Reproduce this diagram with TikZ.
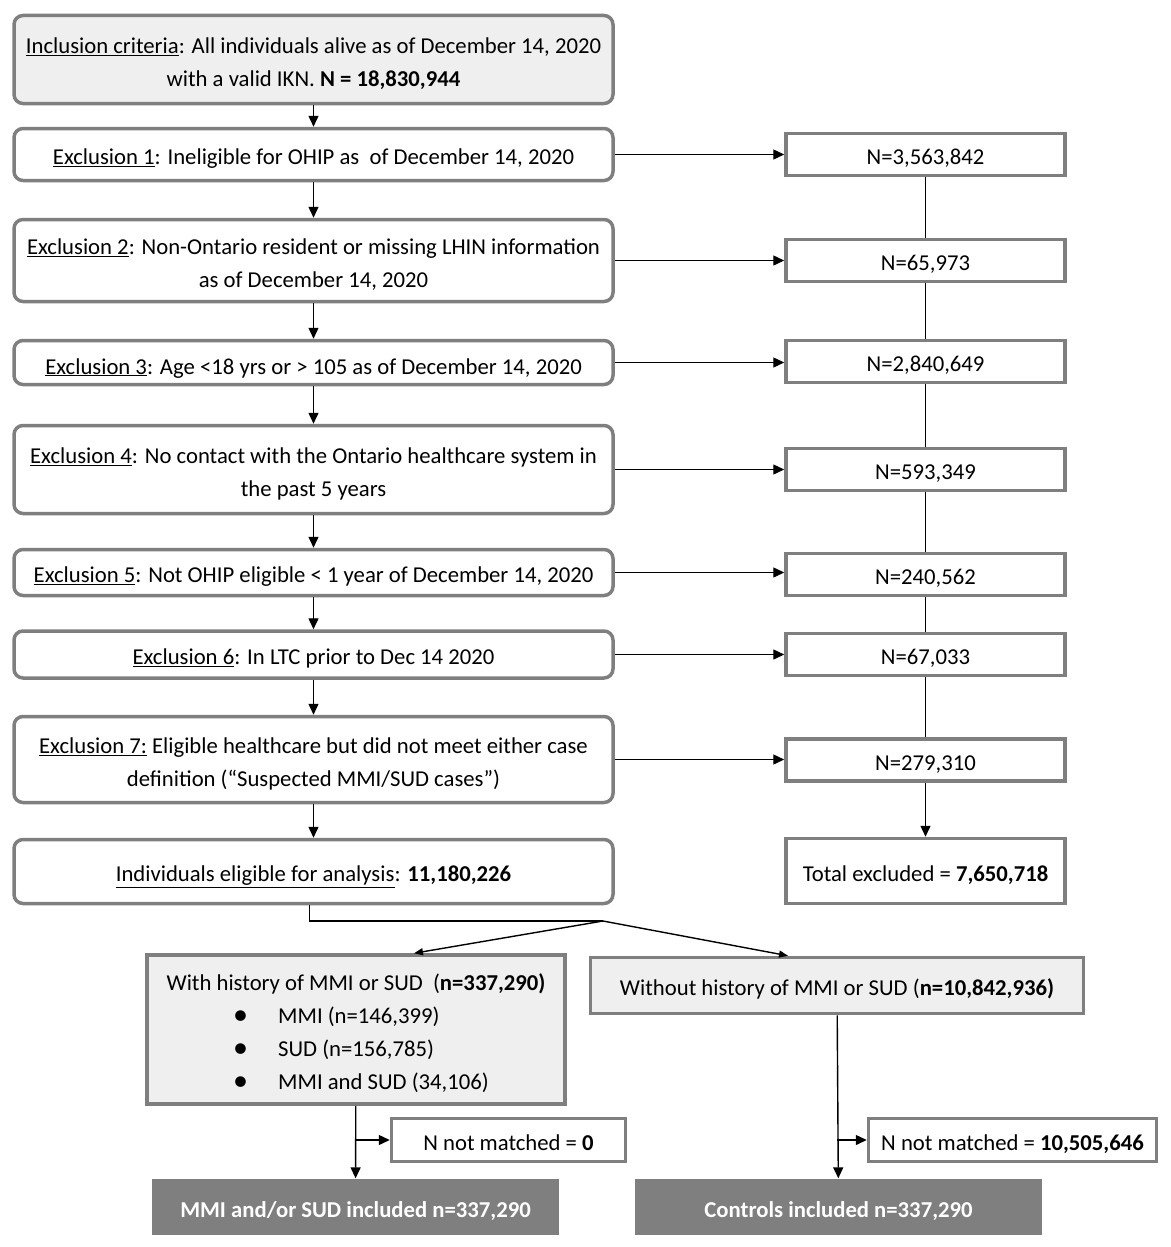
\documentclass[tikz,border=0pt]{standalone}
\usepackage{fontspec}
\setmainfont{Carlito}
\usetikzlibrary{arrows.meta}
\definecolor{boxgray}{HTML}{7F7F7F}
\definecolor{lightfill}{HTML}{EFEFEF}
\newcommand{\bigbullet}{\raisebox{-1pt}{\fontsize{30}{30}\selectfont\textbullet}}
\begin{document}
\begin{tikzpicture}[x=1pt, y=-1pt, line width=1.4pt,
  every node/.style={font=\fontsize{22.7}{33}\selectfont, align=center, inner sep=0pt,
    text height=20pt, text depth=0pt},
  twolines/.style={text height=54pt},
  roundbox/.style={draw=boxgray, line width=3.5pt, rounded corners=9pt, minimum width=599pt},
  countbox/.style={draw=boxgray, line width=3.5pt, minimum width=279pt, minimum height=42pt},
  greybox/.style={draw=boxgray, fill=lightfill, line width=3.5pt},
  darkbox/.style={fill=boxgray, text=white, font=\fontsize{22.7}{33}\selectfont\bfseries, minimum height=56pt},
  arr/.style={-{Triangle[length=11pt,width=10pt]}},
  thinarr/.style={-{Triangle[length=9pt,width=7pt]}}]
\useasboundingbox (0,0) rectangle (1170,1247);
\node[roundbox, twolines, fill=lightfill, minimum height=88pt] (incl) at (313.5,59.5)
  {\underline{Inclusion criteria}: All individuals alive as of December 14, 2020\\
   with a valid IKN. \textbf{N = 18,830,944}};
\node[roundbox, minimum height=52pt] (ex1) at (313.5,154.5)
  {\underline{Exclusion 1}: Ineligible for OHIP as \ of December 14, 2020};
\node[roundbox, twolines, minimum height=82pt] (ex2) at (313.5,260.5)
  {\underline{Exclusion 2}: Non-Ontario resident or missing LHIN information\\
   as of December 14, 2020};
\node[roundbox, minimum height=44pt, text height=23pt] (ex3) at (313.5,362.5)
  {\underline{Exclusion 3}: Age <18 yrs or > 105 as of December 14, 2020};
\node[roundbox, twolines, minimum height=88pt] (ex4) at (313.5,469.5)
  {\underline{Exclusion 4}: No contact with the Ontario healthcare system in\\
   the past 5 years};
\node[roundbox, minimum height=46pt] (ex5) at (313.5,572.5)
  {\underline{Exclusion 5}: Not OHIP eligible < 1 year of December 14, 2020};
\node[roundbox, minimum height=47pt] (ex6) at (313.5,654.5)
  {\underline{Exclusion 6}: In LTC prior to Dec 14 2020};
\node[roundbox, twolines, minimum height=86pt] (ex7) at (313.5,759.5)
  {\underline{Exclusion 7:} Eligible healthcare but did not meet either case\\
   definition (“Suspected MMI/SUD cases”)};
\node[roundbox, minimum height=64pt] (elig) at (313.5,871.5)
  {\underline{Individuals eligible for analysis}: \textbf{11,180,226}};

\node[countbox] (r1) at (925.5,154.5) {N=3,563,842};
\node[countbox] (r2) at (925.5,260.5) {N=65,973};
\node[countbox] (r3) at (925.5,361.5) {N=2,840,649};
\node[countbox] (r4) at (925.5,469.5) {N=593,349};
\node[countbox] (r5) at (925.5,574.5) {N=240,562};
\node[countbox] (r6) at (925.5,654.5) {N=67,033};
\node[countbox] (r7) at (925.5,760) {N=279,310};
\node[countbox, minimum height=65pt] (tot) at (925.5,871) {Total excluded = \textbf{7,650,718}};

\node[greybox, text height={}, text depth={}, minimum width=418pt, minimum height=149pt] (hist) at (356,1029.5)
  {\begin{tabular}{@{}c@{}}
   \rule{0pt}{31pt}With history of MMI or SUD \ (\textbf{n=337,290)}\\
   \hspace*{10pt}\begin{tabular}{@{}l@{\hspace{30pt}}l@{}}
   \bigbullet & MMI (n=146,399)\\
   \bigbullet & SUD (n=156,785)\\
   \bigbullet & MMI and SUD (34,106)
   \end{tabular}
   \end{tabular}};
\node[greybox, minimum width=493pt, minimum height=56pt] (nohist) at (837,985.5)
  {Without history of MMI or SUD (\textbf{n=10,842,936)}};
\node[countbox, minimum width=234pt, minimum height=43pt] (nm1) at (508.5,1140) {N not matched = \textbf{0}};
\node[countbox, minimum width=288pt, minimum height=43pt] (nm2) at (1012.5,1140) {N not matched = \textbf{10,505,646}};
\node[darkbox, minimum width=407pt] (case) at (355.5,1207) {MMI and/or SUD included n=337,290};
\node[darkbox, minimum width=407pt] (ctrl) at (838.5,1207) {Controls included n=337,290};

\draw[arr] (incl) -- (ex1);
\draw[arr] (ex1) -- (ex2);
\draw[arr] (ex2) -- (ex3);
\draw[arr] (ex3) -- (ex4);
\draw[arr] (ex4) -- (ex5);
\draw[arr] (ex5) -- (ex6);
\draw[arr] (ex6) -- (ex7);
\draw[arr] (ex7) -- (elig);
\foreach \i in {1,...,7}
  \draw[arr] (ex\i.east) -- (r\i.west |- ex\i.east);
\draw (r1) -- (r2) -- (r3) -- (r4) -- (r5) -- (r6) -- (r7);
\draw[arr] (r7) -- (tot);

\coordinate (split) at (603,921);
\draw ([xshift=-4pt]elig.south) |- (split);
\draw[thinarr] (split) -- ([xshift=58pt]hist.north);
\draw[thinarr] (split) -- ([xshift=-49pt]nohist.north);
\draw[arr] (hist) -- (case);
\draw[arr] (hist.south |- nm1.west) -- (nm1.west);
\draw[arr] (nohist) -- (ctrl);
\draw[arr] (nohist.south |- nm2.west) -- (nm2.west);
\end{tikzpicture}
\end{document}
